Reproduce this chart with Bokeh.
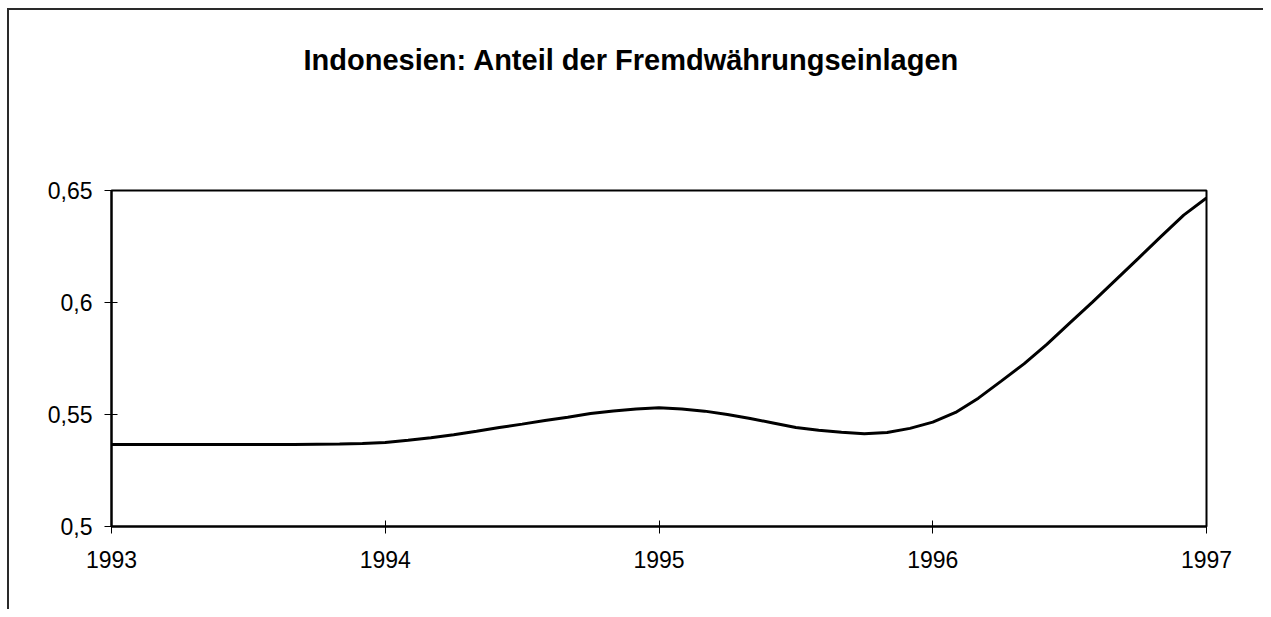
from bokeh.plotting import figure
from bokeh.models import Range1d, FixedTicker, Title
from bokeh.embed import file_html
from bokeh.resources import INLINE

# ---- data (monthly readings, Jan 1993 .. Jan 1997) ----
title_text = "Indonesien: Anteil der Fremdwährungseinlagen"
year_ticks = [1993, 1994, 1995, 1996, 1997]
year_labels = ["1993", "1994", "1995", "1996", "1997"]
share_ticks = [0.5, 0.55, 0.6, 0.65]
share_labels = ["0,5", "0,55", "0,6", "0,65"]
month_index = list(range(49))
share = [
    0.5366, 0.5366, 0.5366, 0.5366, 0.5366, 0.5366, 0.5366, 0.5366, 0.5366,
    0.5367, 0.5368, 0.5371, 0.5375, 0.5385, 0.5396, 0.5410, 0.5425, 0.5442,
    0.5457, 0.5473, 0.5488, 0.5504, 0.5516, 0.5525, 0.5530, 0.5525, 0.5515,
    0.5500, 0.5482, 0.5462, 0.5442, 0.5430, 0.5421, 0.5414, 0.5420, 0.5438,
    0.5466, 0.5509, 0.5573, 0.5649, 0.5726, 0.5813, 0.5908, 0.6002, 0.6099,
    0.6196, 0.6294, 0.6390, 0.6467,
]
years = [year_ticks[0] + m / 12 for m in month_index]

FONT = "Liberation Sans"
W, H = 1263, 609

p = figure(
    width=W, height=H, title=None,
    x_range=Range1d(1993, 1997), y_range=Range1d(0.5, 0.65),
    output_backend="svg", toolbar_location=None,
    min_border_left=111, min_border_top=190,
    min_border_right=W - 1206, min_border_bottom=H - 526,
    background_fill_color="white", border_fill_alpha=0.0,
    styles={
        "background": (
            "linear-gradient(#2a2a2a,#2a2a2a) 7px 8px / 2px calc(100% - 8px) no-repeat, "
            "linear-gradient(#2a2a2a,#2a2a2a) 7px 8px / calc(100% - 7px) 2px no-repeat, "
            "white"
        )
    },
)
p.xgrid.visible = False
p.ygrid.visible = False
p.outline_line_color = "black"
p.outline_line_width = 2
p.outline_line_alpha = 1.0

p.line(years, share, line_color="black", line_width=3)

# axes
p.xaxis.ticker = FixedTicker(ticks=year_ticks)
p.xaxis.major_label_overrides = dict(zip(year_ticks, year_labels))
p.yaxis.ticker = FixedTicker(ticks=share_ticks)
p.yaxis.major_label_overrides = dict(zip(share_ticks, share_labels))
for ax in (p.xaxis, p.yaxis):
    ax.axis_line_color = "black"
    ax.axis_line_width = 2
    ax.major_tick_line_color = "black"
    ax.major_tick_line_width = 1
    ax.major_tick_in = 6
    ax.major_tick_out = 7
    ax.minor_tick_line_color = None
    ax.major_label_text_font = FONT
    ax.major_label_text_font_size = "23px"
    ax.major_label_text_color = "black"
p.xaxis.major_label_standoff = 17
p.yaxis.major_label_standoff = 12

# spacer between frame and title, then the title itself
spacer = Title(text=" ", text_font_size="1px", standoff=107)
p.add_layout(spacer, "above")
main_title = Title(
    text=title_text, text_font=FONT, text_font_size="29px",
    text_font_style="bold", text_color="black",
    align="left", offset=303 - 111, standoff=10,
)
p.add_layout(main_title, "above")

open("out.html", "w").write(file_html(p, INLINE))
